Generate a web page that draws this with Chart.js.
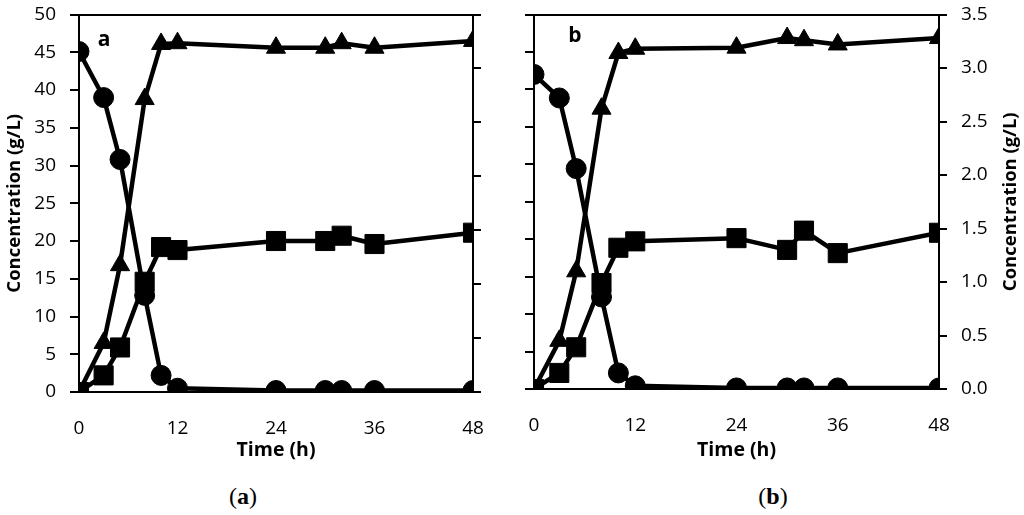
<!DOCTYPE html>
<html>
<head>
<meta charset="utf-8">
<script src="https://cdn.jsdelivr.net/npm/chart.js@4.4.0/dist/chart.umd.min.js"></script>
<style>
  html, body { margin: 0; padding: 0; background: #fff; }
  #wrap { position: relative; width: 1024px; height: 515px; overflow: hidden; }
  canvas { position: absolute; top: 0; }
  .cap { position: absolute; font-family: "Liberation Serif", serif; font-size: 24px; color: #000; transform: translate(-50%, -50%); }
  .tag { position: absolute; font-family: "Open Sans", sans-serif; font-weight: bold; font-size: 21px; color: #000; transform: translate(-50%, -50%); }
</style>
</head>
<body>
<div id="wrap">
  <canvas id="chartA" width="512" height="470" style="left:0"></canvas>
  <canvas id="chartB" width="512" height="470" style="left:512px"></canvas>
  <div class="tag" style="left:104px; top:38px">a</div>
  <div class="tag" style="left:575px; top:34px">b</div>
  <div class="cap" style="left:243px; top:496px">(<b>a</b>)</div>
  <div class="cap" style="left:773px; top:496px">(<b>b</b>)</div>
</div>
<script>
// sampling times (h)
const hours = [0, 3, 5, 8, 10, 12, 24, 30, 32, 36, 48];
const xTicks = [0, 12, 24, 36, 48];

// panel a, g/L
const aCircle = [45.1, 39.0, 30.8, 12.8, 2.2, 0.5, 0.2, 0.2, 0.2, 0.2, 0.2];
const aTriangle = [0, 6.5, 16.8, 38.8, 46.1, 46.2, 45.6, 45.6, 46.2, 45.6, 46.5];
const aSquare = [0, 2.2, 5.9, 14.6, 19.2, 18.8, 20.0, 20.0, 20.7, 19.6, 21.1];

// panel b, g/L
const bCircle = [2.94, 2.72, 2.06, 0.86, 0.15, 0.03, 0.01, 0.01, 0.01, 0.01, 0.01];
const bTriangle = [0, 0.45, 1.10, 2.62, 3.14, 3.18, 3.19, 3.28, 3.26, 3.22, 3.28];
const bSquare = [0, 0.15, 0.39, 0.99, 1.32, 1.38, 1.41, 1.30, 1.48, 1.27, 1.46];

const leftTicks = [0, 5, 10, 15, 20, 25, 30, 35, 40, 45, 50];
const rightTicks = [0, 0.5, 1.0, 1.5, 2.0, 2.5, 3.0, 3.5];

const tickFont = { family: 'Open Sans', size: 19 };
const yTitleFont = { family: 'Open Sans', size: 18.5, weight: 'bold' };
const xTitleFont = { family: 'Open Sans', size: 19.5, weight: 'bold' };

function series(values, style, radius, axis) {
  return {
    data: hours.map((h, i) => ({ x: h, y: values[i] })),
    yAxisID: axis,
    borderColor: '#000',
    backgroundColor: '#000',
    borderWidth: 4.5,
    pointStyle: style,
    pointRadius: radius,
    pointHoverRadius: radius,
    pointBackgroundColor: '#000',
    pointBorderColor: '#000',
    pointBorderWidth: 1,
    tension: 0
  };
}

function yScale(pos, ticks, showLabels, width, title) {
  const max = ticks[ticks.length - 1];
  return {
    type: 'linear',
    position: pos,
    min: 0,
    max: max,
    afterBuildTicks: s => { s.ticks = ticks.map(v => ({ value: v })); },
    afterFit: s => { s.width = width; s.paddingTop = 0; s.paddingBottom = 0; },
    border: { color: '#000', width: 2 },
    grid: {
      drawOnChartArea: pos === 'left',
      color: c => (c.tick && c.tick.value === max) ? '#000' : 'rgba(0,0,0,0)',
      lineWidth: 2,
      tickColor: '#000',
      tickWidth: 2,
      tickLength: pos === 'left' ? 9 : 8
    },
    ticks: {
      display: showLabels,
      color: '#000',
      font: tickFont,
      padding: 14,
      callback: v => max < 10 ? v.toFixed(1) : String(v)
    },
    title: title ? { display: true, text: 'Concentration (g/L)', color: '#000', font: yTitleFont, padding: { top: 4, bottom: 0 } } : { display: false }
  };
}

function xScale(height) {
  return {
    type: 'linear',
    min: 0,
    max: 48,
    afterBuildTicks: s => { s.ticks = xTicks.map(v => ({ value: v })); },
    afterFit: s => { s.height = height; s.paddingLeft = 0; s.paddingRight = 0; },
    border: { color: '#000', width: 2 },
    grid: { display: false },
    ticks: { color: '#000', font: tickFont, padding: 17 },
    title: { display: true, text: 'Time (h)', color: '#000', font: xTitleFont, padding: { top: 0, bottom: 8 } }
  };
}

// right-hand title in panel b reads bottom-to-top
const rightTitle = {
  id: 'rightTitle',
  afterDraw(chart) {
    const ctx = chart.ctx;
    ctx.save();
    ctx.translate(499, (chart.chartArea.top + chart.chartArea.bottom) / 2);
    ctx.rotate(-Math.PI / 2);
    ctx.fillStyle = '#000';
    ctx.font = 'bold 18.5px "Open Sans"';
    ctx.textAlign = 'center';
    ctx.textBaseline = 'middle';
    ctx.fillText('Concentration (g/L)', 0, 0);
    ctx.restore();
  }
};

const common = {
  responsive: false,
  animation: false,
  plugins: { legend: { display: false }, tooltip: { enabled: false } },
  elements: { line: { borderJoinStyle: 'round' } }
};

new Chart(document.getElementById('chartA'), {
  type: 'line',
  data: {
    datasets: [
      series(aSquare, 'rect', 13.5, 'y'),
      series(aTriangle, 'triangle', 11, 'y'),
      series(aCircle, 'circle', 10, 'y')
    ]
  },
  options: Object.assign({}, common, {
    layout: { padding: { top: 12, right: 0, left: 0, bottom: 0 } },
    scales: {
      x: xScale(78),
      y: yScale('left', leftTicks, true, 79, true),
      y2: yScale('right', rightTicks, false, 39, false)
    }
  })
});

new Chart(document.getElementById('chartB'), {
  type: 'line',
  data: {
    datasets: [
      series(bSquare, 'rect', 13.5, 'y2'),
      series(bTriangle, 'triangle', 11, 'y2'),
      series(bCircle, 'circle', 10, 'y2')
    ]
  },
  options: Object.assign({}, common, {
    layout: { padding: { top: 12, right: 0, left: 0, bottom: 0 } },
    scales: {
      x: xScale(81),
      y: yScale('left', leftTicks, false, 22, false),
      y2: yScale('right', rightTicks, true, 85, false)
    }
  }),
  plugins: [rightTitle]
});
</script>
</body>
</html>
